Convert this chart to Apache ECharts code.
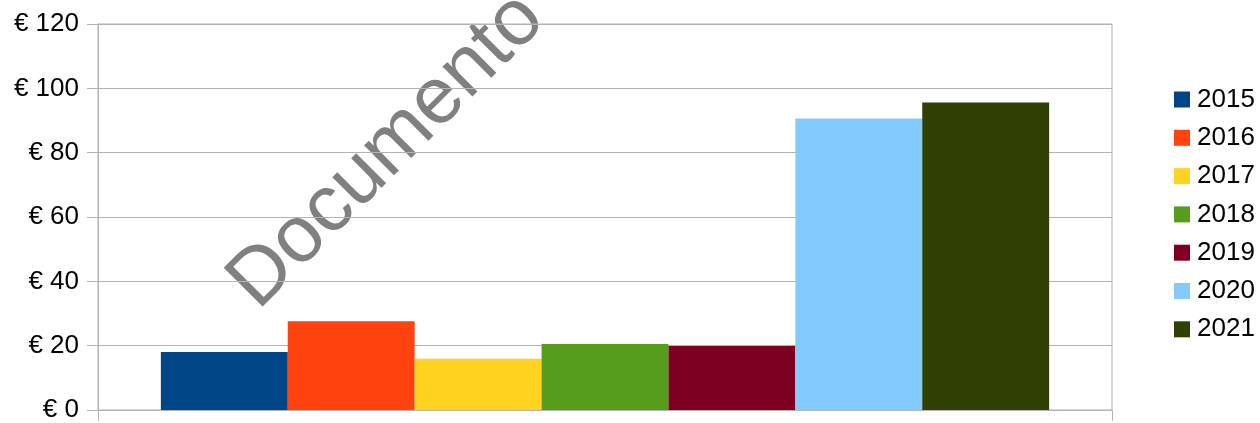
<!DOCTYPE html>
<html>
<head>
<meta charset="utf-8">
<script src="https://cdn.jsdelivr.net/npm/echarts@6/dist/echarts.min.js"></script>
<style>
html,body{margin:0;padding:0;background:#fff;}
#chart{width:1260px;height:423px;}
</style>
</head>
<body>
<div id="chart"></div>
<script>
var categories = [''];
var seriesNames = ['2015','2016','2017','2018','2019','2020','2021'];
var seriesValues = [18, 27.6, 15.9, 20.5, 19.9, 90.6, 95.6];
var seriesColors = ['#004586','#ff420e','#ffd320','#579d1c','#7e0021','#83caff','#314004'];
var yTicks = [0, 20, 40, 60, 80, 100, 120];
var watermark = 'Documento';

var font = '"Liberation Sans", Arial, sans-serif';
var chart = echarts.init(document.getElementById('chart'), null, {renderer: 'canvas'});

var series = seriesNames.map(function (name, i) {
  return {
    name: name,
    type: 'bar',
    data: [seriesValues[i]],
    barGap: '0%',
    barCategoryGap: '12.4%',
    itemStyle: {color: seriesColors[i]},
    z: 3
  };
});

chart.setOption({
  animation: false,
  backgroundColor: '#ffffff',
  textStyle: {fontFamily: font},
  grid: {
    left: 98, right: 148, top: 24, bottom: 11,
    show: true, borderColor: '#b3b3b3', borderWidth: 1, containLabel: false
  },
  legend: {
    orient: 'vertical',
    left: 1174,
    top: 86.5,
    padding: 0,
    itemWidth: 16,
    itemHeight: 16,
    itemGap: 12.3,
    icon: 'rect',
    data: seriesNames,
    textStyle: {fontSize: 26, color: '#000', lineHeight: 26, fontFamily: font, padding: [0,0,0,2]}
  },
  xAxis: {
    type: 'category',
    data: categories,
    axisLine: {lineStyle: {color: '#b3b3b3', width: 1}},
    axisTick: {show: true, length: 11, interval: 0, lineStyle: {color: '#b3b3b3'}},
    axisLabel: {show: false},
    splitLine: {show: false}
  },
  yAxis: {
    type: 'value',
    min: yTicks[0],
    max: yTicks[yTicks.length - 1],
    interval: 20,
    axisLine: {show: true, lineStyle: {color: '#b3b3b3', width: 1}},
    axisTick: {show: true, length: 11, lineStyle: {color: '#b3b3b3'}},
    axisLabel: {
      margin: 19,
      fontSize: 26,
      color: '#000',
      fontFamily: font,
      formatter: function (v) { return '€ ' + v; }
    },
    splitLine: {show: true, lineStyle: {color: '#b3b3b3', width: 1}},
    z: 2
  },
  graphic: {
    elements: [{
      type: 'text',
      x: 387,
      y: 151,
      rotation: Math.PI / 4,
      z: -10,
      zlevel: 0,
      style: {
        text: watermark,
        fontSize: 80,
        fontFamily: font,
        fill: '#808080',
        align: 'center',
        verticalAlign: 'middle'
      }
    }]
  },
  series: series
});
</script>
</body>
</html>
